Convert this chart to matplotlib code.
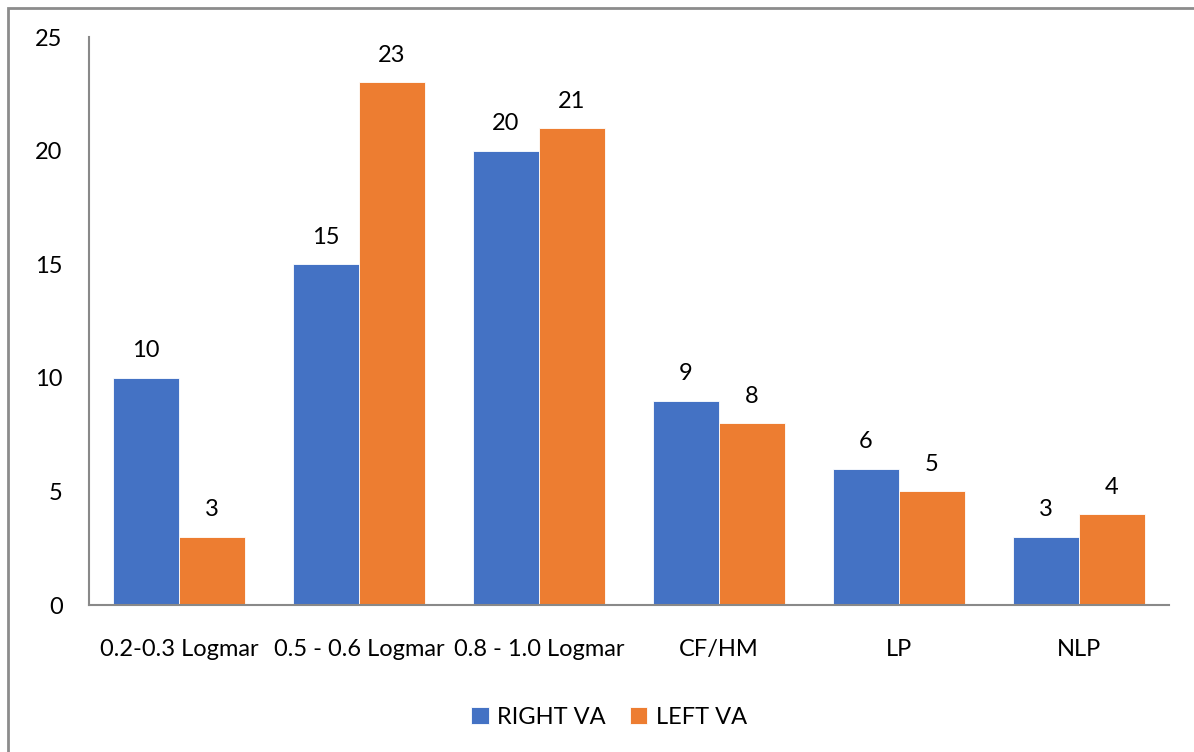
import numpy as np
import matplotlib
matplotlib.use("Agg")
from matplotlib import pyplot as plt
from matplotlib.patches import Rectangle

# 数据
categories = ["0.2-0.3 Logmar", "0.5 - 0.6 Logmar", "0.8 - 1.0 Logmar", "CF/HM", "LP", "NLP"]
right_va = [10, 15, 20, 9, 6, 3]
left_va = [3, 23, 21, 8, 5, 4]
y_ticks = [0, 5, 10, 15, 20, 25]

plt.rcParams['font.family'] = ['Lato', 'DejaVu Sans']
fs = 17

fig = plt.figure(figsize=(11.94, 7.52), dpi=100)
ax = fig.add_axes([89 / 1194, 1 - 605 / 752, 1080 / 1194, 568 / 752])

x = np.arange(len(categories))
w = 0.366
b1 = ax.bar(x - w / 2, right_va, w, color='#4472C4', edgecolor='white', linewidth=0.6, label='RIGHT VA')
b2 = ax.bar(x + w / 2, left_va, w, color='#ED7D31', edgecolor='white', linewidth=0.6, label='LEFT VA')

for bars in (b1, b2):
    for r in bars:
        ax.text(r.get_x() + r.get_width() / 2, r.get_height() + 0.72, str(int(r.get_height())),
                ha='center', va='bottom', fontsize=fs, color='black')

ax.set_xlim(-0.5, len(categories) - 0.5)
ax.set_ylim(0, 25)
ax.set_yticks(y_ticks)
ax.set_xticks(x)
ax.set_xticklabels(categories)
ax.tick_params(axis='both', length=0, labelsize=fs, colors='black')
ax.tick_params(axis='x', pad=24.5)
ax.tick_params(axis='y', pad=19)

for s in ['top', 'right']:
    ax.spines[s].set_visible(False)
for s in ['left', 'bottom']:
    ax.spines[s].set_color('#898989')
    ax.spines[s].set_linewidth(1.5)

ax.legend(loc='center', bbox_to_anchor=(609 / 1194, 1 - 717 / 752), bbox_transform=fig.transFigure,
          ncol=2, frameon=False, fontsize=fs, handlelength=0.75, handleheight=0.75,
          columnspacing=1.0, handletextpad=0.35)

# 外框
fig.patches.append(Rectangle((8 / 1194, -0.05), 1.2, 1.05 - 8 / 752, transform=fig.transFigure,
                             fill=False, edgecolor='#8c8c8c', linewidth=2))

fig.savefig('out.png', dpi=100)
